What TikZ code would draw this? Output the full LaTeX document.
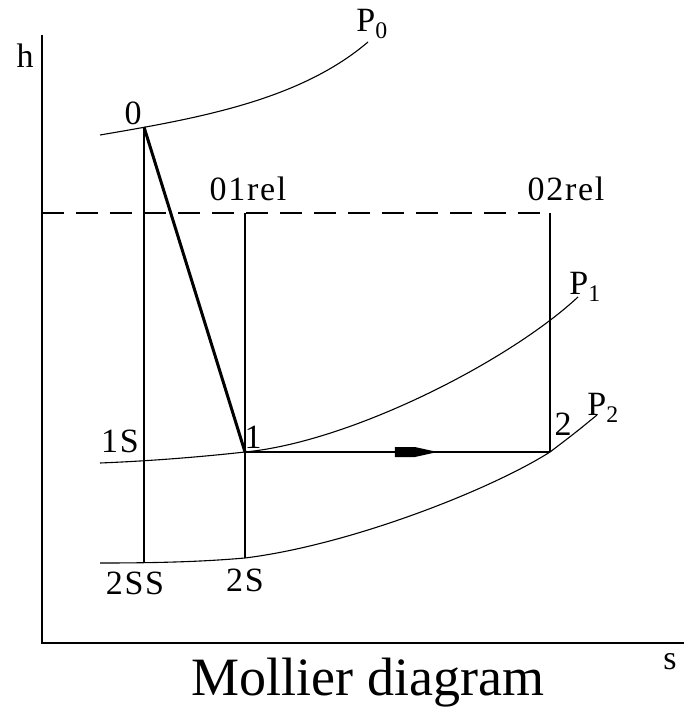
\documentclass[tikz,border=0pt]{standalone}
\usepackage{fontspec}
\setmainfont{Liberation Serif}
\usetikzlibrary{decorations.markings}
\begin{document}
\begin{tikzpicture}[x=1pt,y=-1pt,
  lbl/.style={inner sep=0pt, font=\fontsize{34}{34}\selectfont\addfontfeatures{LetterSpace=5}},
  curve/.style={line width=1.1pt},
  rule/.style={line width=1.5pt},
  axis/.style={line width=2pt},
  flowmark/.style={postaction={decorate},decoration={markings,mark=at position 0.616 with
    {\fill (-38,-5) -- (-18,-5) -- (0,-1) -- (0,1) -- (-18,5) -- (-38,5) -- cycle;}}}]
\useasboundingbox (0,0) rectangle (684,711);
% axes
\coordinate (O) at (42,643);
\coordinate (htop) at (42,35);
\coordinate (send) at (684,643);
\draw[axis] (htop) -- (O) -- (send);
% states
\coordinate (p0) at (144,127);
\coordinate (p1) at (245,452);
\coordinate (p2) at (550,452);
\coordinate (p1s) at (144,460);
\coordinate (p2s) at (245,558);
\coordinate (p2ss) at (144,563);
\coordinate (p01) at (245,213);
\coordinate (p02) at (550,213);
\coordinate (hl) at (42,213);
% isobars
\draw[curve] (100,135) .. controls (200,118) and (300,100) .. (368,42);
\draw[curve] (100,463) .. controls (150,461) and (200,457) .. (p1)
  .. controls (350,442) and (508,362) .. (578,297);
\draw[curve] (100,563) .. controls (170,563) and (210,561) .. (p2s)
  .. controls (350,545) and (490,490) .. (p2) .. controls (575,433) .. (597,415);
% lines
\draw[rule,dash pattern=on 22pt off 12pt] (hl) -- (p02);
\draw[rule] (p0) -- (p2ss);
\draw[rule] (p01) -- (p2s);
\draw[rule] (p02) -- (p2);
\draw[line width=3pt] (p0) -- (p1);
\draw[rule,flowmark] (p1) -- (p2);
% labels
\node[lbl] (lh) at (25,56) {h};
\node[lbl] (ls) at (670,662) {s};
\node[lbl] (lp0) at (372,24) {P\textsubscript{0}};
\node[lbl] (lp1) at (585,287) {P\textsubscript{1}};
\node[lbl] (lp2) at (603,408) {P\textsubscript{2}};
\node[lbl] (l0) at (133,113) {0};
\node[lbl] (l1) at (253,437) {1};
\node[lbl] (l2) at (563,424) {2};
\node[lbl] (l01) at (248,189) {01rel};
\node[lbl] (l02) at (566,189) {02rel};
\node[lbl] (l1s) at (120,441) {1S};
\node[lbl] (l2ss) at (135,583) {2SS};
\node[lbl] (l2s) at (245,580) {2S};
\node (title) at (368,683) {\fontsize{54}{54}\selectfont Mollier diagram};
\end{tikzpicture}
\end{document}
